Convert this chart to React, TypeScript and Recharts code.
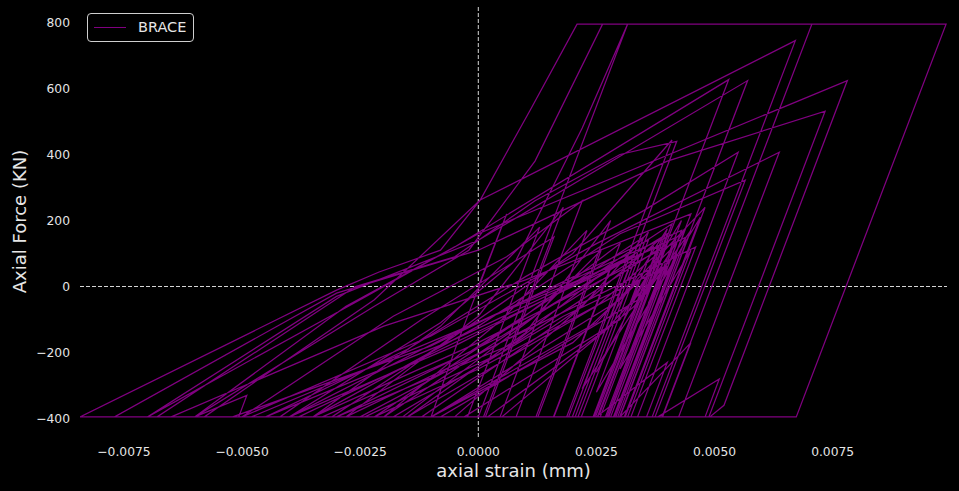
import { Line, LineChart, ReferenceLine, XAxis, YAxis } from "recharts"

// [strain, force] pairs, in the order they are traced
const earlyCycles: [number, number][] = [
  [0, 0], [0.0006, 220], [-0.00044, -170], [-0.001, -395],
  [-0.0016, -395], [0.0012, -90], [0.0026, 110], [0.00126, -395],
  [-0.0022, -395], [0.0008, -110], [0.003, 130], [0.0016, -395],
  [-0.0005, -395], [0.0022, -60], [0.0036, 165], [0.00211, -395],
  [-0.003, -395], [0.0005, -150], [0.0033, 95], [0.00278, -100], [0.004, 175], [0.00248, -395],
  [-0.0012, -395], [0.002, -80], [0.0039, 150], [0.00245, -395],
  [-0.004, -395], [-0.0005, -180], [0.0025, 40], [0.0041, 190], [0.00254, -395],
  [-0.0008, -395], [0.0035, -30], [0.0045, 170], [0.003, -395],
  [-0.0025, -395], [0.001, -130], [0.0037, 120], [0.00327, -40], [0.0043, 200], [0.00272, -395],
]

const centerCycles: [number, number][] = [
  [-0.0035, -395], [-0.0008, -120], [0.0013, 180], [-0.00023, -395],
  [-0.0028, -395], [0, -90], [0.0018, 240], [0.00011, -395],
  [-0.0042, -395], [-0.0012, -100], [0.0016, 150], [0.00015, -395],
  [-0.002, -395], [0.0005, -100], [0.0023, 170], [0.0008, -395],
  [-0.005, -395], [-0.0018, -90], [0.0006, 90], [0.0022, 260], [0.00046, -395],
  [-0.0015, -395], [0.001, -140], [0.0028, 200], [0.00122, -395],
  [-0.003, -395], [0.0008, -170], [0.004, 130], [0.003, -250], [0.0045, 110], [0.00316, -395],
  [-0.001, -395], [0.002, -170], [0.0034, 20], [0.0025, -320], [0.0042, 90], [0.00291, -395],
  [-0.0022, -395], [0, -250], [0.003, -20], [0.0022, -310], [0.0039, 60], [0.00269, -395],
]

const fillerCyclesA: [number, number][] = [
  [-0.0045, -395], [-0.0005, -160], [0.0032, 90], [0.00191, -395],
  [-0.0035, -395], [0, -170], [0.0044, 150], [0.00295, -395],
  [-0.0028, -395], [0.0012, -120], [0.0046, 120], [0.00323, -395],
  [-0.0018, -395], [0.0018, -90], [0.004, 60], [0.0036, -50], [0.0047, 210], [0.00309, -395],
  [-0.0052, -395], [-0.001, -180], [0.0036, 140], [0.00218, -395],
  [-0.006, -395], [-0.0049, -330], [-0.00507, -395],
  [-0.0048, -395], [0.0038, 120], [0.00243, -395],
  [-0.0038, -395], [0.0042, 150], [0.00275, -395],
  [0.0025, -395], [0.004, -230], [0.00356, -395],
]

const mediumCyclesA: [number, number][] = [
  [-0.0031, -395], [-0.0005, -150], [0.002, 100], [0.0041, 444], [0.00187, -395],
  [-0.0045, -395], [-0.0015, -190], [0.001, 30], [0.0035, 230], [0.0055, 407], [0.00337, -395],
  [-0.006, -395], [-0.0028, -60], [-0.0005, 120], [0.0053, 627], [0.00258, -395],
  [-0.007, -395], [-0.003, -30], [0, 140], [0.0057, 624], [0.00299, -395],
  [-0.0035, -395], [0, -120], [0.003, 160], [0.00565, 322], [0.00374, -395],
  [-0.005, -395], [-0.001, -150], [0.0025, 130], [0.00637, 407], [0.00424, -395],
]

const fillerCyclesB: [number, number][] = [
  [0.0002, -395], [0.0027, -130], [0.0042, 100], [0.00288, -395],
  [-0.001, -395], [0.0025, -110], [0.0048, 240], [0.00311, -395],
  [-0.0065, -395], [-0.002, -120], [0.001, 20], [0.0045, 220], [0.00286, -395],
  [-0.0024, -395], [0.0005, -200], [0.0028, 60], [0.00159, -395],
  [-0.004, -395], [-0.0005, -140], [0.0043, 170], [0.0028, -395],
  [0.003, -395], [0.0045, -170], [0.0039, -395],
  [0.0038, -395], [0.0051, -280], [0.0048, -395],
  [-0.0068, -395], [-0.0026, 0], [-0.0005, 90], [0.0012, 260], [0.0030, 400], [0.0042, 440], [0.00199, -395],
]

const mediumCyclesB: [number, number][] = [
  [-0.0077, -395], [-0.003, -20], [0, 110], [0.004, 380], [0.00734, 531], [0.00488, -395],
  [-0.0058, -395], [-0.0022, -40], [0.00004, 262], [0.00671, 745], [0.00368, -395],
  [-0.007, -395], [-0.0025, -40], [0, 160], [0.00781, 624], [0.0052, -360], [0.0049, -395],
]

const largeCycles: [number, number][] = [
  [-0.006, -395], [-0.0022, -60], [-0.0002, 110], [0.0012, 380], [0.00263, 795], [0.00706, 795], [0.00389, -395],
  [-0.004, -395], [-0.0008, -110], [0.0008, 80], [0.0022, 480], [0.00316, 795], [0.0099, 795], [0.00673, -395],
  [-0.00843, -395], [-0.003, -11], [-0.0021, 44], [-0.0008, 110], [0.00004, 262], [0.0011, 535], [0.00209, 795], [0.00316, 795], [0, -395],
]

const finalCycles: [number, number][] = [
  [-0.002, -395], [0.0015, -60], [0.004, 160], [0.00252, -395],
  [-0.001, -395], [0.003, -40], [0.0042, 130], [0.0028, -395],
  [-0.0015, -395], [0.0025, -60], [0.0038, 100], [0.00343, -40], [0.0044, 180], [0.00287, -395],
  [0.0005, -395], [0.0033, -60], [0.0041, 110], [0.00276, -395],
  [-0.0033, -395], [-0.0002, -200], [0.0035, 150], [0.00205, -395],
  [-0.0003, -395], [0.003, -100], [0.0036, 40], [0.0025, -260],
]

const strainTicks = [-0.0075, -0.005, -0.0025, 0, 0.0025, 0.005, 0.0075]
const forceTicks = [-400, -200, 0, 200, 400, 600, 800]

const braceData = [
  ...earlyCycles,
  ...centerCycles,
  ...fillerCyclesA,
  ...mediumCyclesA,
  ...fillerCyclesB,
  ...mediumCyclesB,
  ...largeCycles,
  ...finalCycles,
].map(([strain, force]) => ({ strain, force }))

const FONT = "'DejaVu Sans', sans-serif"
const TEXT = "#e6e6e6"

const withMinus = (s: string) => s.replace("-", "\u2212")

const XTitle = ({ viewBox }: any) => (
  <text
    x={viewBox.x + viewBox.width / 2}
    y={477}
    textAnchor="middle"
    fill={TEXT}
    fontSize={18}
    fontFamily={FONT}
  >
    axial strain (mm)
  </text>
)

const YTitle = ({ viewBox }: any) => {
  const cx = 26
  const cy = viewBox.y + viewBox.height / 2
  return (
    <text
      x={cx}
      y={cy}
      transform={`rotate(-90, ${cx}, ${cy})`}
      textAnchor="middle"
      fill={TEXT}
      fontSize={18}
      fontFamily={FONT}
    >
      Axial Force (KN)
    </text>
  )
}

export default function App() {
  return (
    <div
      style={{
        position: "fixed",
        left: 0,
        top: 0,
        width: 959,
        height: 491,
        background: "#000",
        fontFamily: FONT,
      }}
    >
      <LineChart
        width={959}
        height={491}
        data={braceData}
        margin={{ top: 6, right: 12, left: 0, bottom: 0 }}
      >
        <XAxis
          dataKey="strain"
          type="number"
          domain={[-0.00843, 0.00992]}
          allowDataOverflow
          ticks={strainTicks}
          tickFormatter={(v: number) => withMinus(v.toFixed(4))}
          axisLine={false}
          tickLine={false}
          tickSize={6}
          tickMargin={4}
          height={54}
          tick={{ fill: TEXT, fontSize: 12.3, fontFamily: FONT }}
          label={<XTitle />}
        />
        <YAxis
          dataKey="force"
          type="number"
          domain={[-456, 850]}
          allowDataOverflow
          ticks={forceTicks}
          tickFormatter={(v: number) => withMinus(String(v))}
          axisLine={false}
          tickLine={false}
          tickSize={6}
          tickMargin={4}
          width={80}
          tick={{ fill: TEXT, fontSize: 12.3, fontFamily: FONT }}
          label={<YTitle />}
        />
        <ReferenceLine x={0} stroke="#d4d4d4" strokeDasharray="4 2" strokeWidth={1} />
        <ReferenceLine y={0} stroke="#d4d4d4" strokeDasharray="4 2" strokeWidth={1} />
        <Line
          type="linear"
          dataKey="force"
          name="BRACE"
          stroke="#800080"
          strokeWidth={1.25}
          dot={false}
          activeDot={false}
          isAnimationActive={false}
        />
      </LineChart>

      <div
        style={{
          position: "absolute",
          left: 87,
          top: 13,
          width: 105,
          height: 27,
          border: "1px solid #cfcfcf",
          borderRadius: 4,
          background: "#000",
        }}
      >
        <div
          style={{
            position: "absolute",
            left: 6,
            top: 13,
            width: 32,
            height: 1.25,
            background: "#800080",
          }}
        />
        <span
          style={{
            position: "absolute",
            left: 50,
            top: 4,
            fontSize: 14.5,
            lineHeight: "18px",
            color: TEXT,
            fontFamily: FONT,
          }}
        >
          BRACE
        </span>
      </div>
    </div>
  )
}
